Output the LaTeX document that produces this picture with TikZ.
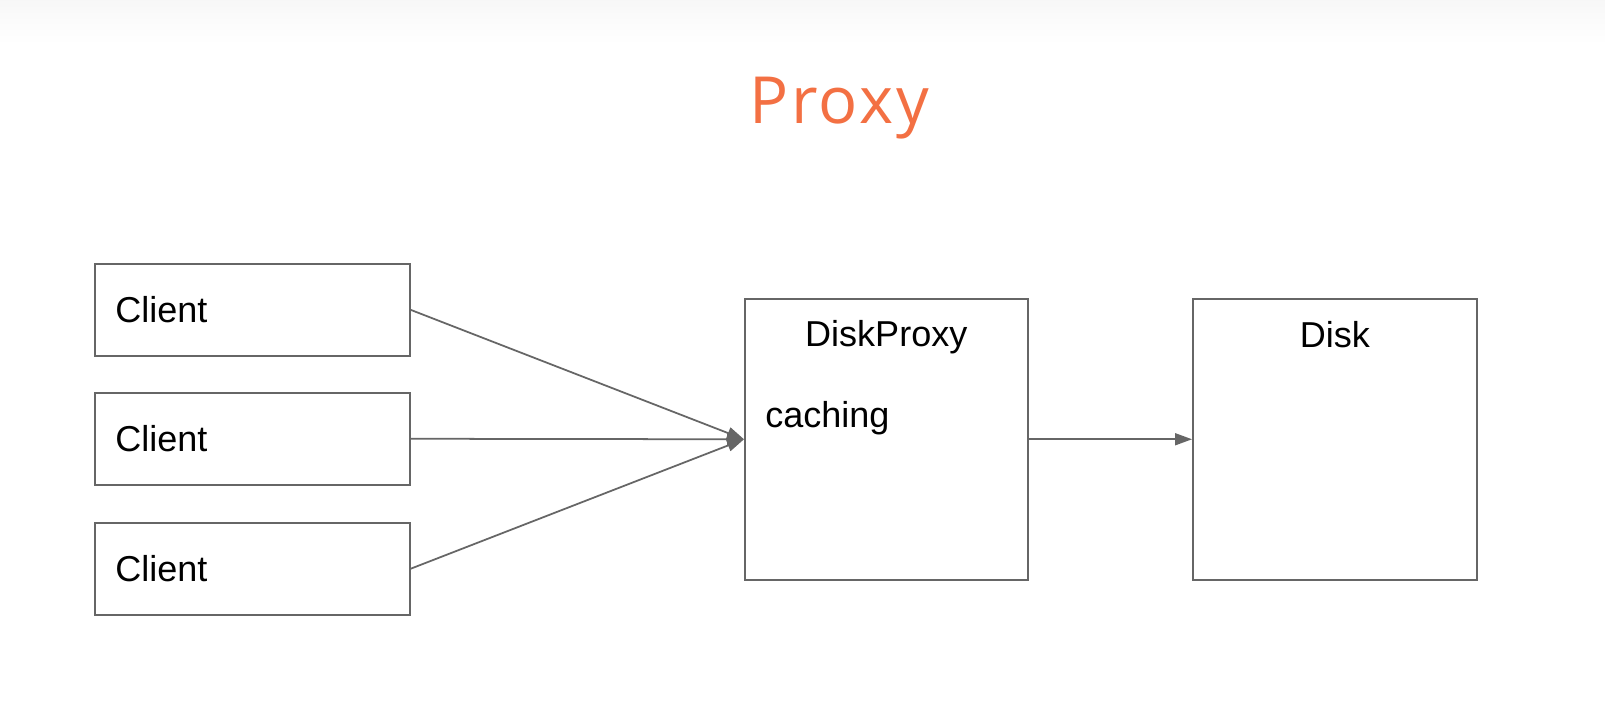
\documentclass[tikz,border=0pt]{standalone}
\usepackage{fontspec}
\setmainfont{Liberation Sans}
\newfontfamily\titlefont[LetterSpace=4]{Open Sans}
\usetikzlibrary{arrows.meta}
\definecolor{titleOrange}{RGB}{243,112,67}
\definecolor{lineGray}{RGB}{102,102,102}

\begin{document}
\begin{tikzpicture}[x=0.02cm,y=-0.02cm]
    \tikzstyle{every node} = [font=\fontsize{20.5}{24}\selectfont, inner sep=0pt]
    \tikzstyle{box} = [draw=lineGray, line width=0.9pt, rectangle, anchor=north west]
    \tikzstyle{arrow} = [-{Triangle[length=0.34cm,width=0.24cm]}, draw=lineGray, line width=1pt]
    % background
    \fill[white] (0,0) rectangle (1605,706);
    \shade[top color=gray!6, bottom color=white] (0,0) rectangle (1605,44);
    \useasboundingbox (0,0) rectangle (1605,706);

    % place nodes
    \node[font=\titlefont\fontsize{37}{40}\selectfont, text=titleOrange, anchor=base west] (title) at (749,123) {Proxy};
    \node[box, minimum width=6.3cm, minimum height=1.84cm] (clientA) at (94,263) {};
    \node[box, minimum width=6.3cm, minimum height=1.84cm] (clientB) at (94,392) {};
    \node[box, minimum width=6.3cm, minimum height=1.84cm] (clientC) at (94,522) {};
    \node[box, minimum width=5.66cm, minimum height=5.62cm] (diskProxy) at (744,298) {};
    \node[box, minimum width=5.68cm, minimum height=5.62cm] (disk) at (1192,298) {};

    % texts
    \node[anchor=base west] (clientAText) at (115,322) {Client};
    \node[anchor=base west] (clientBText) at (115,451) {Client};
    \node[anchor=base west] (clientCText) at (115,581) {Client};
    \node[anchor=base] (diskProxyText) at (diskProxy.center |- 0,346) {DiskProxy};
    \node[anchor=base west] (cachingText) at (765,427) {caching};
    \node[anchor=base] (diskText) at (disk.center |- 0,347) {Disk};

    % Connections
    \draw[arrow] (clientA.east)--(diskProxy.west);
    \draw[arrow] (clientB.east)--(diskProxy.west);
    \draw[arrow] (clientC.east)--(diskProxy.west);
    \draw[arrow] (diskProxy.east)--(disk.west);

\end{tikzpicture}
\end{document}
